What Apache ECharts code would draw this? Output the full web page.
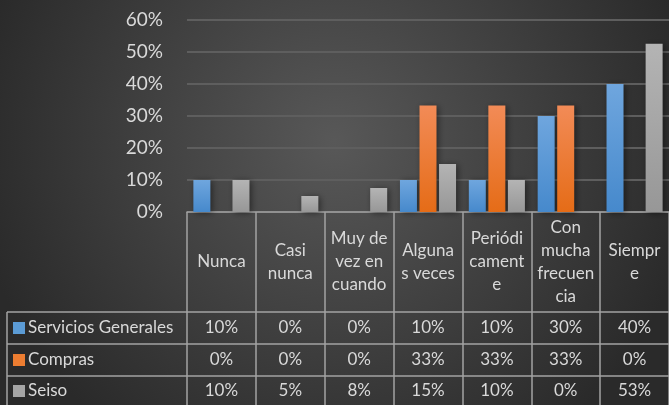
<!DOCTYPE html>
<html>
<head>
<meta charset="utf-8">
<script src="https://cdn.jsdelivr.net/npm/echarts@6/dist/echarts.min.js"></script>
<style>
  html, body { margin: 0; padding: 0; background: #333; }
  #chart { width: 669px; height: 405px; }
</style>
</head>
<body>
<div id="chart"></div>
<script>
// categories as they are wrapped in the picture
const categories = ['Nunca', 'Casi\nnunca', 'Muy de\nvez en\ncuando', 'Alguna\ns veces', 'Periódi\ncament\ne', 'Con\nmucha\nfrecuen\ncia', 'Siempr\ne'];
const seriesNames = ['Servicios Generales', 'Compras', 'Seiso'];
const servicios = [10, 0, 0, 10, 10, 30, 40];
const compras = [0, 0, 0, 33.3, 33.3, 33.3, 0];
const seiso = [10, 5, 7.5, 15, 10, 0, 52.6];

const seriesData = [servicios, compras, seiso];
const colors = [
  ['#6fa6de', '#4689cc'],
  ['#f28b57', '#e56c17'],
  ['#b4b4b4', '#979797']
];
const swatch = ['#5b9bd5', '#ed7d31', '#a5a5a5'];
const textColor = '#d9d9d9';
const lineColor = '#a3a3a3';
const font = 'Lato, "Open Sans", sans-serif';

const chart = echarts.init(document.getElementById('chart'));

const option = {
  backgroundColor: {
    type: 'radial', x: 0.5, y: 0.35, r: 0.9,
    colorStops: [
      { offset: 0, color: '#585858' },
      { offset: 1, color: '#2a2a2a' }
    ]
  },
  animation: false,
  grid: { left: 187, right: 0, top: 20, bottom: 193 },
  xAxis: {
    type: 'category',
    data: categories,
    axisLine: { lineStyle: { color: lineColor, width: 1.5 } },
    axisTick: { show: true, length: 193, lineStyle: { color: lineColor, width: 1.5 } },
    axisLabel: {
      color: textColor, fontSize: 17, fontFamily: font,
      lineHeight: 23, margin: 50, verticalAlign: 'middle', align: 'center',
      interval: 0
    }
  },
  yAxis: {
    type: 'value',
    min: 0, max: 60, interval: 10,
    axisLine: { show: false },
    axisTick: { show: false },
    axisLabel: {
      color: textColor, fontSize: 19, fontFamily: font, margin: 24,
      formatter: '{value}%'
    },
    splitLine: { lineStyle: { color: '#5e5e5e', width: 2 } }
  },
  series: seriesData.map((d, i) => ({
    name: seriesNames[i],
    type: 'bar',
    data: d,
    barWidth: 17,
    barGap: '15%',
    itemStyle: {
      color: {
        type: 'linear', x: 0, y: 0, x2: 0, y2: 1,
        colorStops: [{ offset: 0, color: colors[i][0] }, { offset: 1, color: colors[i][1] }]
      },
      shadowBlur: 6,
      shadowOffsetX: 2,
      shadowOffsetY: 1,
      shadowColor: 'rgba(0,0,0,0.45)'
    }
  }))
};

chart.setOption(option);

// data table below the axis
const rowLines = [312, 344, 376];
const rowCenters = [328, 360, 391];
const graphics = [];
rowLines.forEach(y => {
  graphics.push({
    type: 'line', shape: { x1: 7, y1: y, x2: 669, y2: y },
    style: { stroke: lineColor, lineWidth: 1.5 }
  });
});
graphics.push({
  type: 'line', shape: { x1: 7, y1: 312, x2: 7, y2: 405 },
  style: { stroke: lineColor, lineWidth: 1.5 }
});
seriesNames.forEach((name, r) => {
  const cy = rowCenters[r];
  graphics.push({
    type: 'rect', shape: { x: 13, y: cy - 6, width: 12, height: 12 },
    style: { fill: swatch[r] }
  });
  graphics.push({
    type: 'text', x: 28, y: cy,
    style: { text: name, fill: textColor, font: '17px ' + font, verticalAlign: 'middle', align: 'left' }
  });
  seriesData[r].forEach((v, c) => {
    const cx = chart.convertToPixel({ xAxisIndex: 0 }, c);
    graphics.push({
      type: 'text', x: cx, y: cy,
      style: { text: Math.round(v) + '%', fill: textColor, font: '17px ' + font, verticalAlign: 'middle', align: 'center' }
    });
  });
});
chart.setOption({ graphic: graphics });
</script>
</body>
</html>
